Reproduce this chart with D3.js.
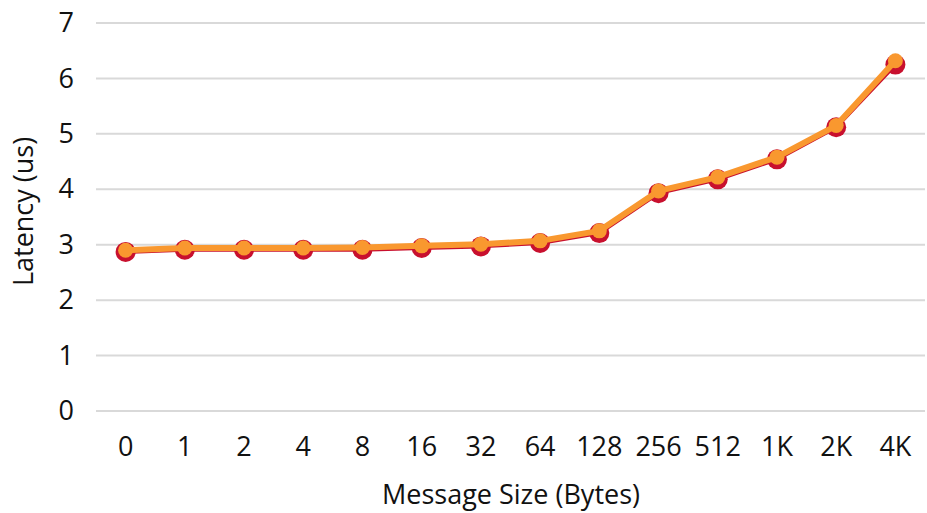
<!DOCTYPE html>
<html>
<head>
<meta charset="utf-8">
<script src="https://cdn.jsdelivr.net/npm/d3@7"></script>
<style>
  html, body { margin: 0; padding: 0; background: #fff; }
  svg { display: block; font-family: "Open Sans", Lato, "Liberation Sans", sans-serif; }
</style>
</head>
<body>
<svg id="chart" width="927" height="513"></svg>
<script>
const categories = ["0", "1", "2", "4", "8", "16", "32", "64", "128", "256", "512", "1K", "2K", "4K"];
const seriesRed = [2.87, 2.91, 2.91, 2.91, 2.91, 2.94, 2.97, 3.03, 3.21, 3.93, 4.18, 4.54, 5.12, 6.25];
const seriesOrange = [2.90, 2.94, 2.94, 2.94, 2.95, 2.98, 3.01, 3.07, 3.25, 3.97, 4.22, 4.58, 5.15, 6.32];
const yTicks = [0, 1, 2, 3, 4, 5, 6, 7];

const FONT = "'Open Sans', Lato, sans-serif";
const FS = 27;
const svg = d3.select("#chart");
const margin = { left: 96, right: 2, top: 23, bottom: 102 };
const W = 927, H = 513;

const x = d3.scaleBand().domain(categories).range([margin.left, W - margin.right]);
const y = d3.scaleLinear().domain([0, 7]).range([H - margin.bottom, margin.top]);

// gridlines
svg.append("g").selectAll("line").data(yTicks).join("line")
  .attr("x1", margin.left).attr("x2", W - margin.right)
  .attr("y1", d => y(d)).attr("y2", d => y(d))
  .attr("stroke", "#D9D9D9").attr("stroke-width", 2);

// y axis labels
const yAxis = d3.axisLeft(y).tickValues(yTicks).tickFormat(d3.format("d")).tickSize(0).tickPadding(0);
const gy = svg.append("g").attr("transform", `translate(${margin.left - 22},0)`).call(yAxis);
gy.select(".domain").remove();
gy.attr("font-size", null).attr("font-family", null);
gy.selectAll("text").attr("font-size", FS).attr("fill", "#111").attr("font-family", FONT);

// x axis labels
const xAxis = d3.axisBottom(x).tickSize(0).tickPadding(0);
const gx = svg.append("g").attr("transform", `translate(0,${H - margin.bottom + 26})`).call(xAxis);
gx.select(".domain").remove();
gx.attr("font-size", null).attr("font-family", null);
gx.selectAll("text").attr("font-size", FS).attr("fill", "#111").attr("font-family", FONT);

// axis titles
svg.append("text")
  .attr("x", 511).attr("y", 504)
  .attr("text-anchor", "middle").attr("font-size", FS).attr("fill", "#111").attr("font-family", FONT)
  .text("Message Size (Bytes)");
svg.append("text")
  .attr("transform", `translate(33,${y(3.6)}) rotate(-90)`)
  .attr("text-anchor", "middle").attr("font-size", FS).attr("fill", "#111").attr("font-family", FONT)
  .text("Latency (us)");

const cx = d => x(d) + x.bandwidth() / 2;

function drawSeries(values, color, lw, r) {
  const data = categories.map((c, i) => ({ c, v: values[i] }));
  const line = d3.line().x(d => cx(d.c)).y(d => y(d.v));
  svg.append("path").datum(data)
    .attr("d", line).attr("fill", "none")
    .attr("stroke", color).attr("stroke-width", lw)
    .attr("stroke-linejoin", "round").attr("stroke-linecap", "round");
  svg.append("g").selectAll("circle").data(data).join("circle")
    .attr("cx", d => cx(d.c)).attr("cy", d => y(d.v))
    .attr("r", r).attr("fill", color);
}

drawSeries(seriesRed, "#C8102E", 4, 10);
drawSeries(seriesOrange, "#F9982F", 6, 7.5);
</script>
</body>
</html>
